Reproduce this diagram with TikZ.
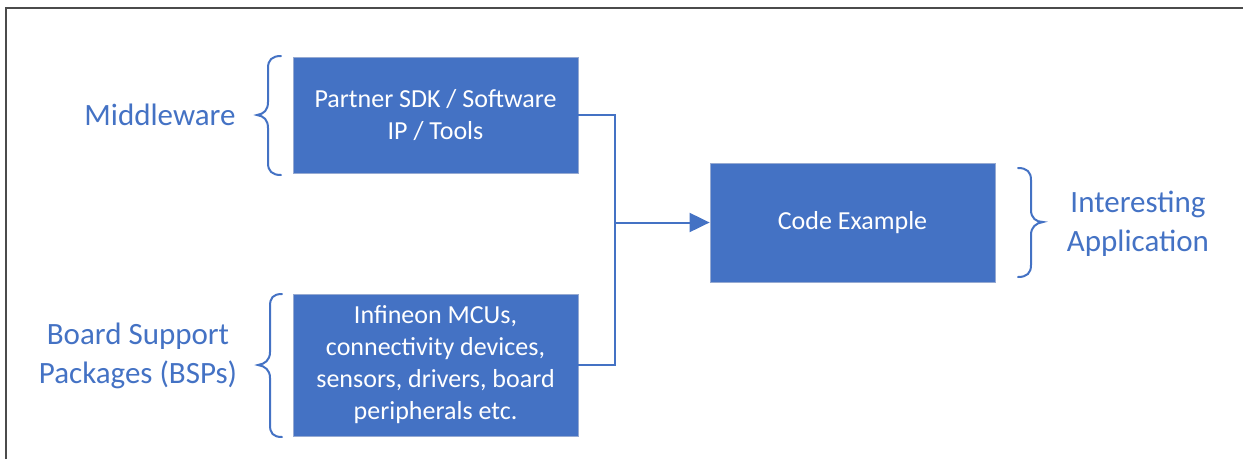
\documentclass[tikz,border=0pt]{standalone}
\usepackage{fontspec}
\setmainfont{Carlito}
\usetikzlibrary{arrows.meta}
\definecolor{officeblue}{RGB}{68,114,196}
\definecolor{boxedge}{RGB}{150,170,210}
\definecolor{framegray}{RGB}{75,75,75}
\tikzset{
  block/.style={fill=officeblue, draw=boxedge, line width=0.8pt, text=white,
    align=center, inner sep=0pt, minimum width=285pt,
    font=\fontsize{26}{32}\selectfont},
  label/.style={text=officeblue, align=center, inner sep=0pt,
    font=\fontsize{31}{39}\selectfont},
  link/.style={draw=officeblue, line width=2pt},
  curly/.style={draw=officeblue, line width=2pt, line cap=round},
}
\begin{document}
\begin{tikzpicture}[x=1pt,y=-1pt]
\useasboundingbox (0,0) rectangle (1243,459);
% page frame (top and left edges)
\draw[framegray, line width=2.2pt] (6,459) -- (6,8) -- (1243,8);

% blocks
\node[block, minimum height=116pt] (sdk) at (435.5,115) {Partner SDK / Software\\IP / Tools};
\node[block, minimum height=142pt] (bsp) at (435.5,365) {Infineon MCUs,\\connectivity devices,\\sensors, drivers, board\\peripherals etc.};
\node[block, minimum height=119pt] (code) at (852.5,222.5) {Code Example};

% side labels
\node[label] (mw) at (160,115) {Middleware};
\node[label] (bsplabel) at (138,356) {Board Support\\Packages (BSPs)};
\node[label] (app) at (1138,224) {Interesting\\Application};

% braces
\draw[curly] (281,56) .. controls (272,56) and (268,60) .. (268,68) -- (268,102)
  .. controls (268,110) and (264,114) .. (257,115)
  .. controls (264,116) and (268,120) .. (268,128) -- (268,163)
  .. controls (268,171) and (272,175) .. (281,175);
\draw[curly] (282,294) .. controls (273,294) and (270,298) .. (270,306) -- (270,352)
  .. controls (270,360) and (265,364) .. (258,365)
  .. controls (265,366) and (270,370) .. (270,378) -- (270,425)
  .. controls (270,433) and (273,437) .. (282,437);
\draw[curly] (1018,168) .. controls (1027,168) and (1031,172) .. (1031,180) -- (1031,210)
  .. controls (1031,218) and (1036,222) .. (1043,222)
  .. controls (1036,223) and (1031,227) .. (1031,235) -- (1031,265)
  .. controls (1031,273) and (1027,277) .. (1018,277);

% connectors
\coordinate (join) at (615,222.5);
\draw[link] (sdk.east) -| (join) |- (bsp.east);
\draw[link, -{Triangle[length=20pt,width=19pt]}] (join) -- (code.west);
\end{tikzpicture}
\end{document}
